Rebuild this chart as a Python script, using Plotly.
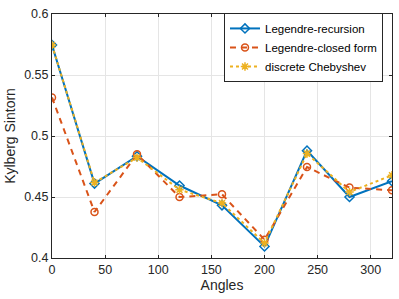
import plotly.graph_objects as go

angles = [0, 40, 80, 120, 160, 200, 240, 280, 320]
legendre_recursion = [0.5746, 0.461, 0.4834, 0.4594, 0.4432, 0.4095, 0.4880, 0.4500, 0.4630]
legendre_closed = [0.5316, 0.4377, 0.4850, 0.4500, 0.4522, 0.4150, 0.4746, 0.4577, 0.4555]
discrete_chebyshev = [0.5746, 0.4618, 0.4823, 0.4560, 0.4450, 0.4122, 0.4856, 0.4541, 0.4678]

x_ticks = [0, 50, 100, 150, 200, 250, 300]
y_ticks = [0.4, 0.45, 0.5, 0.55, 0.6]
y_tick_labels = ["0.4", "0.45", "0.5", "0.55", "0.6"]

fig = go.Figure()
fig.add_trace(go.Scatter(
    x=angles, y=legendre_recursion, name="Legendre-recursion",
    mode="lines+markers",
    line=dict(color="#0072BD", width=2, dash="solid"),
    marker=dict(symbol="diamond-open", size=7, color="#0072BD", line=dict(width=1.5, color="#0072BD")),
))
fig.add_trace(go.Scatter(
    x=angles, y=legendre_closed, name="Legendre-closed form",
    mode="lines+markers",
    line=dict(color="#D95319", width=2, dash="6px,5px"),
    marker=dict(symbol="circle-open", size=7, color="#D95319", line=dict(width=1.5, color="#D95319")),
))
fig.add_trace(go.Scatter(
    x=angles, y=discrete_chebyshev, name="discrete Chebyshev",
    mode="lines+markers",
    line=dict(color="#EDB120", width=2, dash="dot"),
    marker=dict(symbol="asterisk-open", size=7, color="#EDB120", line=dict(width=1.5, color="#EDB120")),
))

axis_common = dict(
    showline=True, linecolor="#262626", linewidth=1, mirror="ticks",
    ticks="inside", ticklen=3, tickcolor="#262626",
    showgrid=True, gridcolor="#E5E5E5", gridwidth=1,
    zeroline=False, automargin=False, autorange=False,
    tickfont=dict(family="Liberation Sans, Arial, sans-serif", size=12.5, color="#262626"),
)

fig.update_layout(
    width=399, height=299,
    autosize=False,
    margin=dict(l=52, r=7, t=14, b=41, pad=0),
    paper_bgcolor="white", plot_bgcolor="white",
    font=dict(family="Liberation Sans, Arial, sans-serif", color="#262626"),
    xaxis=dict(range=[0, 320], tickvals=x_ticks,
               title=dict(text="Angles", font=dict(size=14), standoff=3),
               **axis_common),
    yaxis=dict(range=[0.4, 0.6], tickvals=y_ticks, ticktext=y_tick_labels,
               title=dict(text="Kylberg Sintorn", font=dict(size=14), standoff=5),
               **axis_common),
    legend=dict(
        x=0.9735, y=0.863, xanchor="right", yanchor="middle",
        bgcolor="white", bordercolor="#262626", borderwidth=1,
        font=dict(size=11.5, color="#000000"),
        tracegroupgap=0, itemwidth=30,
    ),
    showlegend=True,
)

fig.write_html("out.html", config={"responsive": False, "displayModeBar": False},
               post_script="document.body.style.margin='0';")
